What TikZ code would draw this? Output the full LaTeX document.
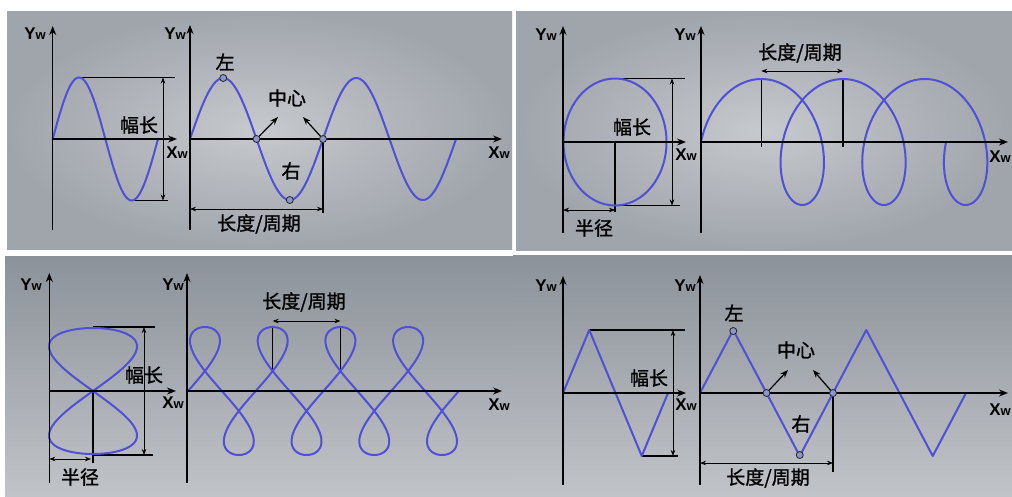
\documentclass[tikz,border=0pt]{standalone}
\usepackage{fontspec}
\setmainfont{Liberation Sans}
\newfontfamily\cjk[FakeBold=1.2]{Noto Sans CJK SC}
\usetikzlibrary{arrows.meta}

\definecolor{panelhi}{RGB}{198,201,205}
\definecolor{panello}{RGB}{160,165,172}
\definecolor{paneldk}{RGB}{140,146,154}
\definecolor{wavecol}{RGB}{80,80,214}
\definecolor{markfill}{RGB}{140,150,205}

\newcommand{\Ax}[1]{#1{\fontsize{13}{13}\selectfont w}}

\tikzset{
    axis/.style={line width=1.4pt, -{Stealth[length=9pt, width=7pt]}},
    guide/.style={line width=1.3pt},
    dim/.style={line width=0.7pt, {Stealth[length=6pt, width=4.5pt]}-{Stealth[length=6pt, width=4.5pt]}},
    pointer/.style={line width=1.2pt, -{Stealth[length=8pt, width=6pt]}},
    wave/.style={draw=wavecol, line width=2pt, line join=round},
    axlabel/.style={font=\bfseries\fontsize{17}{17}\selectfont, inner sep=0pt},
    note/.style={font=\cjk\fontsize{19}{19}\selectfont, inner sep=0pt},
    marker/.style={circle, draw=black!85, fill=markfill, line width=0.8pt,
        inner sep=0pt, minimum size=7pt},
    toppanel/.style={inner color=panelhi, outer color=panello},
    lowpanel/.style={top color=paneldk, bottom color=panelhi!85!panello}
}

\begin{document}
\begin{tikzpicture}[x=1pt, y=-1pt]
    \useasboundingbox (0,0) rectangle (1012,496);
    \fill[white] (0,0) rectangle (1012,496);
    \shade[toppanel] (7,11) rectangle (512,249);
    \shade[toppanel] (516,11) rectangle (1012,250);
    \shade[lowpanel] (5,256) rectangle (513,496);
    \shade[lowpanel] (513,255) rectangle (1012,496);

    \coordinate (s1-o) at (52.7,139);
    \coordinate (s1-bot) at (52.7,230);
    \coordinate (s1-top) at (52.7,26);
    \coordinate (s1-end) at (177,139);
    \coordinate (s1-hi) at (79,77.5);
    \coordinate (s1-hiend) at (175,77.5);
    \coordinate (s1-lo) at (131.7,200.5);
    \coordinate (s1-loend) at (168,200.5);
    \coordinate (s1-dimtop) at (163,77.5);
    \coordinate (s1-dimbot) at (163,200.5);
    \coordinate (w1-o) at (190,139);
    \coordinate (w1-bot) at (190,230);
    \coordinate (w1-top) at (190,25);
    \coordinate (w1-end) at (502,139);
    \coordinate (w1-perbot) at (323,213);
    \coordinate (w1-dimleft) at (190,209);
    \coordinate (w1-dimright) at (323,209);
    \coordinate (w1-tipa) at (278,117);
    \coordinate (w1-tipb) at (303,117);
    \draw[guide] (s1-hi) -- (s1-hiend);
    \draw[guide] (s1-lo) -- (s1-loend);
    \draw[dim] (s1-dimtop) -- (s1-dimbot);
    \draw[wave] plot[domain=0:360, samples=121] ({52.7+105.3*(\x/360)}, {139-61.5*sin(\x)});
    \draw[wave] plot[domain=0:720, samples=241] ({190+133*(\x/360)}, {139-61*sin(\x)});
    \draw[axis] (s1-bot) -- (s1-top);
    \draw[axis] (s1-o) -- (s1-end);
    \draw[axis] (w1-bot) -- (w1-top);
    \draw[axis] (w1-o) -- (w1-end);
    \node[marker] (w1-left) at (223.25,78) {};
    \node[marker] (w1-mid) at (256.5,139) {};
    \node[marker] (w1-right) at (289.75,200) {};
    \node[marker] (w1-next) at (323,139) {};
    \draw[guide] (w1-next) -- (w1-perbot);
    \draw[dim] (w1-dimleft) -- (w1-dimright);
    \draw[pointer] (w1-mid) -- (w1-tipa);
    \draw[pointer] (w1-next) -- (w1-tipb);
    \node[axlabel] (s1-ylabel) at (35,34) {\Ax{Y}};
    \node[axlabel] (s1-xlabel) at (177,153) {\Ax{X}};
    \node[axlabel] (w1-ylabel) at (175,34) {\Ax{Y}};
    \node[axlabel] (w1-xlabel) at (499,153) {\Ax{X}};
    \node[note] (s1-amp) at (139,125) {幅长};
    \node[note] (w1-lefttext) at (225,62) {左};
    \node[note] (w1-midtext) at (287,98) {中心};
    \node[note] (w1-righttext) at (291,171) {右};
    \node[note] (w1-period) at (259,224) {长度/周期};

    \coordinate (s2-o) at (563,142);
    \coordinate (s2-bot) at (563,233);
    \coordinate (s2-top) at (563,26);
    \coordinate (s2-end) at (686,142);
    \coordinate (s2-hi) at (615,78.5);
    \coordinate (s2-hiend) at (685,78.5);
    \coordinate (s2-lo) at (615,205.5);
    \coordinate (s2-loend) at (680,205.5);
    \coordinate (s2-dimtop) at (672,78.5);
    \coordinate (s2-dimbot) at (672,205.5);
    \coordinate (s2-ctr) at (615,142);
    \coordinate (s2-radbot) at (615,212);
    \coordinate (s2-radleft) at (563,210);
    \coordinate (s2-radright) at (615,210);
    \coordinate (w2-o) at (701,142);
    \coordinate (w2-bot) at (701,233);
    \coordinate (w2-top) at (701,26);
    \coordinate (w2-end) at (1008,142);
    \coordinate (w2-crest) at (761.4,79);
    \coordinate (w2-crestbot) at (761.4,147);
    \coordinate (w2-next) at (843.1,79);
    \coordinate (w2-nextbot) at (843.1,147);
    \coordinate (w2-dimleft) at (761.4,71);
    \coordinate (w2-dimright) at (843.1,71);
    \draw[guide] (s2-hi) -- (s2-hiend);
    \draw[guide] (s2-lo) -- (s2-loend);
    \draw[dim] (s2-dimtop) -- (s2-dimbot);
    \draw[guide] (s2-ctr) -- (s2-radbot);
    \draw[dim] (s2-radleft) -- (s2-radright);
    \draw[guide] (w2-crest) -- (w2-crestbot);
    \draw[guide] (w2-next) -- (w2-nextbot);
    \draw[dim] (w2-dimleft) -- (w2-dimright);
    \draw[wave] (s2-ctr) ellipse [x radius=51.5, y radius=63.5];
    \draw[wave] plot[domain=0:1080, samples=361] ({701+13*rad(\x)+40*(1-cos(\x))}, {142-63*sin(\x)});
    \draw[axis] (s2-bot) -- (s2-top);
    \draw[axis] (s2-o) -- (s2-end);
    \draw[axis] (w2-bot) -- (w2-top);
    \draw[axis] (w2-o) -- (w2-end);
    \node[axlabel] (s2-ylabel) at (546,35) {\Ax{Y}};
    \node[axlabel] (s2-xlabel) at (686,155) {\Ax{X}};
    \node[axlabel] (w2-ylabel) at (685,35) {\Ax{Y}};
    \node[axlabel, anchor=east] (w2-xlabel) at (1011,157) {\Ax{X}};
    \node[note] (s2-amp) at (632,127) {幅长};
    \node[note] (s2-radius) at (594,228) {半径};
    \node[note] (w2-period) at (800,53) {长度/周期};

    \coordinate (s3-o) at (49.3,391);
    \coordinate (s3-bot) at (49.3,483);
    \coordinate (s3-top) at (49.3,273);
    \coordinate (s3-end) at (176,391);
    \coordinate (s3-hi) at (93,327);
    \coordinate (s3-hiend) at (155,327);
    \coordinate (s3-lo) at (93,455);
    \coordinate (s3-loend) at (153,455);
    \coordinate (s3-dimtop) at (144,327);
    \coordinate (s3-dimbot) at (144,455);
    \coordinate (s3-ctr) at (93,391);
    \coordinate (s3-radbot) at (93,463);
    \coordinate (s3-radleft) at (49.3,459);
    \coordinate (s3-radright) at (91,459);
    \coordinate (w3-o) at (187,391);
    \coordinate (w3-bot) at (187,483);
    \coordinate (w3-top) at (187,273);
    \coordinate (w3-end) at (502,391);
    \coordinate (w3-loop) at (272.7,327);
    \coordinate (w3-loopbot) at (272.7,371);
    \coordinate (w3-next) at (340.4,327);
    \coordinate (w3-nextbot) at (340.4,371);
    \coordinate (w3-dimleft) at (272.7,321);
    \coordinate (w3-dimright) at (340.4,321);
    \draw[guide] (s3-hi) -- (s3-hiend);
    \draw[guide] (s3-lo) -- (s3-loend);
    \draw[dim] (s3-dimtop) -- (s3-dimbot);
    \draw[guide] (s3-ctr) -- (s3-radbot);
    \draw[dim] (s3-radleft) -- (s3-radright);
    \draw[guide] (w3-loop) -- (w3-loopbot);
    \draw[guide] (w3-next) -- (w3-nextbot);
    \draw[dim] (w3-dimleft) -- (w3-dimright);
    \draw[wave] plot[domain=0:360, samples=181] ({93+44*sin(2*\x)}, {391-63*sin(\x)}) -- cycle;
    \draw[wave] plot[domain=0:1440, samples=481] ({188+10.78*rad(\x)+22.8*sin(2*\x)}, {391-64*sin(\x)});
    \draw[axis] (s3-bot) -- (s3-top);
    \draw[axis] (s3-o) -- (s3-end);
    \draw[axis] (w3-bot) -- (w3-top);
    \draw[axis] (w3-o) -- (w3-end);
    \node[axlabel] (s3-ylabel) at (31,285) {\Ax{Y}};
    \node[axlabel] (s3-xlabel) at (173,403) {\Ax{X}};
    \node[axlabel] (w3-ylabel) at (173,285) {\Ax{Y}};
    \node[axlabel] (w3-xlabel) at (499,405) {\Ax{X}};
    \node[note] (s3-amp) at (144,375) {幅长};
    \node[note] (s3-radius) at (80,477) {半径};
    \node[note] (w3-period) at (304,302) {长度/周期};

    \coordinate (s4-o) at (563,393);
    \coordinate (s4-bot) at (563,485);
    \coordinate (s4-top) at (563,276);
    \coordinate (s4-end) at (686,393);
    \coordinate (s4-hi) at (589.25,330);
    \coordinate (s4-hiend) at (685,330);
    \coordinate (s4-lo) at (641.75,456);
    \coordinate (s4-loend) at (678,456);
    \coordinate (s4-dimtop) at (673,330);
    \coordinate (s4-dimbot) at (673,456);
    \coordinate (w4-o) at (700,393);
    \coordinate (w4-bot) at (700,485);
    \coordinate (w4-top) at (700,275);
    \coordinate (w4-end) at (1008,393);
    \coordinate (w4-perbot) at (833,472);
    \coordinate (w4-dimleft) at (700,463);
    \coordinate (w4-dimright) at (833,463);
    \coordinate (w4-tipa) at (788,370);
    \coordinate (w4-tipb) at (813,370);
    \draw[guide] (s4-hi) -- (s4-hiend);
    \draw[guide] (s4-lo) -- (s4-loend);
    \draw[dim] (s4-dimtop) -- (s4-dimbot);
    \draw[wave] (563,393) -- (589.25,330) -- (615.5,393) -- (641.75,456) -- (668,393);
    \draw[wave] (700,393) -- (733.25,330) -- (766.5,393) -- (799.75,456) -- (833,393)
        -- (866.25,330) -- (899.5,393) -- (932.75,456) -- (966,393);
    \draw[axis] (s4-bot) -- (s4-top);
    \draw[axis] (s4-o) -- (s4-end);
    \draw[axis] (w4-bot) -- (w4-top);
    \draw[axis] (w4-o) -- (w4-end);
    \node[marker] (w4-left) at (733.25,331) {};
    \node[marker] (w4-mid) at (766.5,393) {};
    \node[marker] (w4-right) at (799.75,455) {};
    \node[marker] (w4-next) at (833,393) {};
    \draw[guide] (w4-next) -- (w4-perbot);
    \draw[dim] (w4-dimleft) -- (w4-dimright);
    \draw[pointer] (w4-mid) -- (w4-tipa);
    \draw[pointer] (w4-next) -- (w4-tipb);
    \node[axlabel] (s4-ylabel) at (546,286) {\Ax{Y}};
    \node[axlabel] (s4-xlabel) at (686,405) {\Ax{X}};
    \node[axlabel] (w4-ylabel) at (685,286) {\Ax{Y}};
    \node[axlabel, anchor=east] (w4-xlabel) at (1011,410) {\Ax{X}};
    \node[note] (s4-amp) at (649,378) {幅长};
    \node[note] (w4-lefttext) at (734,313) {左};
    \node[note] (w4-midtext) at (796,350) {中心};
    \node[note] (w4-righttext) at (801,424) {右};
    \node[note] (w4-period) at (768,478) {长度/周期};
\end{tikzpicture}
\end{document}
